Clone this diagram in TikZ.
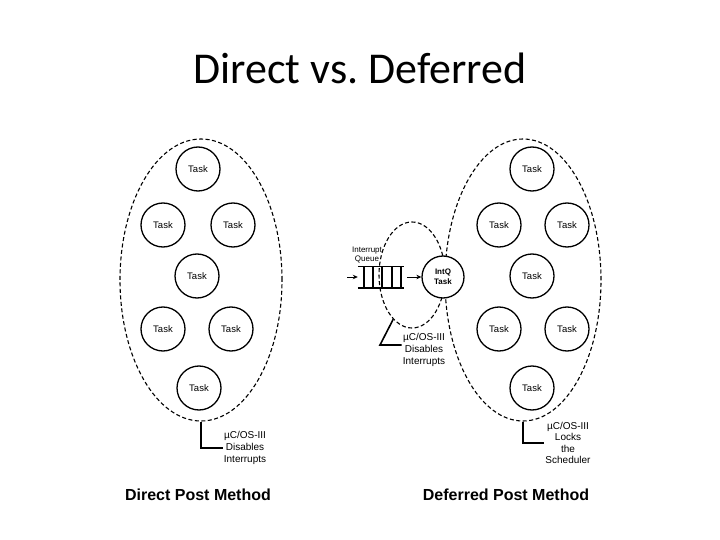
\documentclass[tikz,border=0pt]{standalone}
\usepackage{fontspec}
\setmainfont{Liberation Sans}
\newfontfamily\titlefont{Carlito}
\usetikzlibrary{shapes.geometric,arrows.meta}
\begin{document}
\begin{tikzpicture}[x=1pt,y=-1pt,
  task/.style={circle,draw,line width=1.3pt,minimum size=44pt,inner sep=0pt,fill=white,font=\fontsize{9.5}{11}\selectfont},
  region/.style={ellipse,draw,line width=1.1pt,dash pattern=on 4pt off 2.5pt,inner sep=0pt},
  calltext/.style={align=center,font=\fontsize{10}{12}\selectfont,inner sep=1pt},
  callline/.style={line width=1.6pt},
  method/.style={font=\fontsize{16}{19}\selectfont\bfseries,anchor=base},
  arr/.style={-{Stealth[length=5pt,width=4.5pt]},line width=0.8pt}]
\useasboundingbox (0,0) rectangle (720,540);

\node[font=\titlefont\fontsize{44}{50}\selectfont] (title) at (360,68) {Direct vs.\ Deferred};

% Direct post method
\node[region,minimum width=162pt,minimum height=282pt] (E1) at (201,280) {};
\node[task] (L1) at (198,169) {Task};
\node[task] (L2) at (163,225) {Task};
\node[task] (L3) at (233,225) {Task};
\node[task] (L4) at (197,276) {Task};
\node[task] (L5) at (163,329) {Task};
\node[task] (L6) at (231,329) {Task};
\node[task] (L7) at (199,388) {Task};
\node[calltext] (C1) at (245,448) {µC/OS-III\\Disables\\Interrupts};
\draw[callline] (E1.south) |- (C1.west);

% Deferred post method
\node[region,minimum width=156pt,minimum height=282pt] (E2) at (523,280) {};
\node[region,minimum width=66pt,minimum height=106pt] (E3) at (412,275) {};
\node[task] (R1) at (532,169) {Task};
\node[task] (R2) at (499,225) {Task};
\node[task] (R3) at (567,225) {Task};
\node[task] (R4) at (532,276) {Task};
\node[task] (R5) at (499,329) {Task};
\node[task] (R6) at (567,329) {Task};
\node[task] (R7) at (532,388) {Task};
\node[calltext,font=\fontsize{10}{11.5}\selectfont] (C2) at (568,443) {µC/OS-III\\Locks\\the\\Scheduler};
\draw[callline] (E2.south) |- (C2.west);

% Interrupt queue
\node[minimum width=46pt,minimum height=21pt,inner sep=0pt] (Q) at (381,277) {};
\draw[line width=1.6pt] (Q.north west) -- (Q.north east) (Q.south west) -- (Q.south east);
\foreach \d in {6,15,24,34,43}
  \draw[line width=1.4pt] ([xshift=\d pt]Q.north west) -- ([xshift=\d pt]Q.south west);
\node[font=\fontsize{8}{9.5}\selectfont,align=center,inner sep=0pt] (QL) at (367,255) {Interrupt\\Queue};
\node[task,font=\fontsize{8}{10}\selectfont\bfseries,align=center,minimum size=42pt] (IQ) at (443,277) {IntQ\\Task};
\coordinate (qin) at (347,277);
\draw[arr] (qin) -- (Q.west);
\draw[arr,shorten <=3pt] (Q.east) -- (IQ.west);

\coordinate (k3) at (380,345);
\node[calltext] (C3) at (424,350) {µC/OS-III\\Disables\\Interrupts};
\draw[callline] (E3.247) -- (k3) -- (k3 -| C3.west);

\node[method] (M1) at (198,500) {Direct Post Method};
\node[method] (M2) at (506,500) {Deferred Post Method};
\end{tikzpicture}
\end{document}
